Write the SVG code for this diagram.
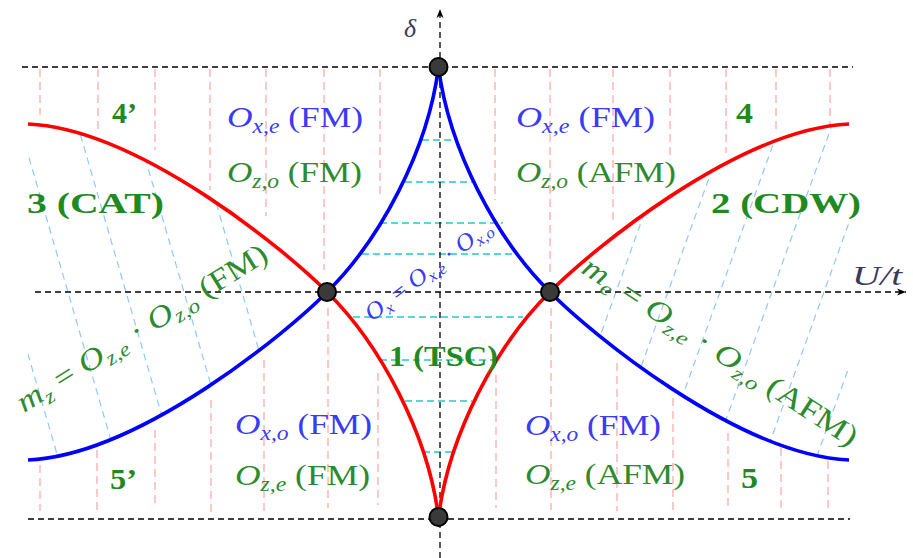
<svg xmlns="http://www.w3.org/2000/svg" width="913" height="558" viewBox="0 0 913 558">
<style>
.bk{stroke:#000;stroke-width:1.3;stroke-dasharray:6 4;fill:none}
.pk{stroke:#ff9c9c;stroke-width:1.1;stroke-dasharray:8 5;fill:none}
.lb{stroke:#8ec8ff;stroke-width:1.2;stroke-dasharray:7 5;fill:none}
.cy{stroke:#20cccc;stroke-width:1.4;stroke-dasharray:7 4;fill:none}
.bl{stroke:#0000ff;stroke-width:3.6;fill:none}
.rd{stroke:#ff0000;stroke-width:3.6;fill:none}
.nd{fill:#3a3a3a;stroke:#000;stroke-width:2}
text{font-family:"Liberation Serif","Times New Roman",serif}
.it{font-style:italic}
.lbl{font-weight:bold;fill:#1f8a1f;font-size:29px}
.gb{fill:#2e8a2e}
.bb{fill:#3b3bf5}
.op{font-size:30px}
.sb{font-size:20px;font-style:italic}
</style>
<defs>
<path id="qL" d="M438.5,67 C428,150 380,240 327,292 C290,330 140,455 28,460"/>
<clipPath id="cL"><path d="M28,124 C140,129 290,254 327,292 C290,330 140,455 28,460 Z"/></clipPath>
<clipPath id="cR"><path d="M849,124 C737,129 587,254 550,292 C587,330 737,455 849,460 Z"/></clipPath>
<marker id="ar" viewBox="-9 -4 10 8" refX="0" refY="0" markerWidth="10" markerHeight="8" orient="auto" markerUnits="userSpaceOnUse"><path d="M0,0 L-9,-3.5 L-6.5,0 L-9,3.5 Z" fill="#000"/></marker>
</defs>

<g id="pink-grid">
<path class="pk" d="M40,69V115 M98,69V132 M155,69V150 M210,69V190 M266,69V216 M324,69V270 M380,69V198"/>
<path class="pk" d="M495,69V200 M550,69V273 M613,69V220 M670,69V157 M726,69V153 M776,69V130 M830,69V127"/>
<path class="pk" d="M40,465V511 M97,450V515 M155,430V508 M211,400V515 M264,360V511 M328,308V508 M378,373V505"/>
<path class="pk" d="M496,375V508 M551,308V510 M617,363V511 M673,398V511 M728,433V511 M781,448V511 M828,461V508"/>
</g>

<g id="hatch-left" clip-path="url(#cL)">
<path class="lb" d="M-45.7,100L64.5,480 M12.3,100L122.5,480 M70.3,100L180.5,480 M128.3,100L238.5,480 M186.3,100L296.5,480"/>
</g>
<g id="hatch-right" clip-path="url(#cR)">
<path class="lb" d="M685.1,100L548.3,480 M737.1,100L600.3,480 M789.1,100L652.3,480 M841.1,100L704.3,480 M893.1,100L756.3,480 M945.1,100L808.3,480"/>
</g>

<g id="hatch-center">
<path class="cy" d="M422,140H455 M405,182H472 M380,223H503 M362,254H515 M353,317H523 M380,360H495 M405,401H472 M423,452H455"/>
</g>

<g id="axes">
<path class="bk" d="M22,67H853 M28,519H850"/>
<path class="bk" d="M35,292H906" marker-end="url(#ar)"/>
<path class="bk" d="M440,558V9" marker-end="url(#ar)"/>
</g>

<g id="connectors">
<use href="#qL" class="bl"/>
<use href="#qL" class="bl" transform="matrix(-1 0 0 1 877 0)"/>
<use href="#qL" class="rd" transform="matrix(1 0 0 -1 0 584)"/>
<use href="#qL" class="rd" transform="matrix(-1 0 0 -1 877 584)"/>
</g>

<g id="node-top"><circle class="nd" cx="438.5" cy="67" r="9"/></g>
<g id="node-left"><circle class="nd" cx="327" cy="292" r="9"/></g>
<g id="node-right"><circle class="nd" cx="550" cy="292" r="9"/></g>
<g id="node-bottom"><circle class="nd" cx="438.5" cy="517" r="9"/></g>

<g id="axis-labels">
<text class="it" x="404" y="37" font-size="26" fill="#3a3a5a">δ</text>
<text class="it" x="852" y="285" font-size="28" fill="#3a3a5a" textLength="50" lengthAdjust="spacingAndGlyphs">U/t</text>
</g>

<g id="region-labels">
<text class="lbl" x="112" y="123" textLength="25" lengthAdjust="spacingAndGlyphs">4’</text>
<text class="lbl" x="736" y="123" textLength="17" lengthAdjust="spacingAndGlyphs">4</text>
<text class="lbl" x="27" y="213" textLength="137" lengthAdjust="spacingAndGlyphs">3 (CAT)</text>
<text class="lbl" x="711" y="213" textLength="150" lengthAdjust="spacingAndGlyphs">2 (CDW)</text>
<text class="lbl" x="389" y="366" font-size="24" textLength="109" lengthAdjust="spacingAndGlyphs">1 (TSC)</text>
<text class="lbl" x="110" y="489" textLength="27" lengthAdjust="spacingAndGlyphs">5’</text>
<text class="lbl" x="741" y="488" textLength="17" lengthAdjust="spacingAndGlyphs">5</text>
</g>

<g id="op-labels" class="op">
<text class="bb" x="227" y="127" textLength="136" lengthAdjust="spacingAndGlyphs"><tspan class="it">O</tspan><tspan class="sb" dy="6">x,e</tspan><tspan dy="-6"> (FM)</tspan></text>
<text class="gb" x="227" y="182" textLength="135" lengthAdjust="spacingAndGlyphs"><tspan class="it">O</tspan><tspan class="sb" dy="6">z,o</tspan><tspan dy="-6"> (FM)</tspan></text>
<text class="bb" x="516" y="127" textLength="139" lengthAdjust="spacingAndGlyphs"><tspan class="it">O</tspan><tspan class="sb" dy="6">x,e</tspan><tspan dy="-6"> (FM)</tspan></text>
<text class="gb" x="516" y="182" textLength="160" lengthAdjust="spacingAndGlyphs"><tspan class="it">O</tspan><tspan class="sb" dy="6">z,o</tspan><tspan dy="-6"> (AFM)</tspan></text>
<text class="bb" x="235" y="434" textLength="137" lengthAdjust="spacingAndGlyphs"><tspan class="it">O</tspan><tspan class="sb" dy="6">x,o</tspan><tspan dy="-6"> (FM)</tspan></text>
<text class="gb" x="235" y="485" textLength="135" lengthAdjust="spacingAndGlyphs"><tspan class="it">O</tspan><tspan class="sb" dy="6">z,e</tspan><tspan dy="-6"> (FM)</tspan></text>
<text class="bb" x="525" y="435" textLength="136" lengthAdjust="spacingAndGlyphs"><tspan class="it">O</tspan><tspan class="sb" dy="6">x,o</tspan><tspan dy="-6"> (FM)</tspan></text>
<text class="gb" x="525" y="484" textLength="160" lengthAdjust="spacingAndGlyphs"><tspan class="it">O</tspan><tspan class="sb" dy="6">z,e</tspan><tspan dy="-6"> (AFM)</tspan></text>
</g>

<g id="order-labels">
<text class="gb" font-size="30" transform="translate(24,413) rotate(-32)" textLength="290" lengthAdjust="spacingAndGlyphs"><tspan class="it">m</tspan><tspan class="sb" dy="6">z</tspan><tspan dy="-6"> = </tspan><tspan class="it">O</tspan><tspan class="sb" dy="6">z,e</tspan><tspan dy="-6"> · </tspan><tspan class="it">O</tspan><tspan class="sb" dy="6">z,o</tspan><tspan dy="-6"> (FM)</tspan></text>
<text class="gb" font-size="30" transform="translate(580,272) rotate(33)" textLength="322" lengthAdjust="spacingAndGlyphs"><tspan class="it">m</tspan><tspan class="sb" dy="6">e</tspan><tspan dy="-6"> = </tspan><tspan class="it">O</tspan><tspan class="sb" dy="6">z,e</tspan><tspan dy="-6"> · </tspan><tspan class="it">O</tspan><tspan class="sb" dy="6">z,o</tspan><tspan dy="-6"> (AFM)</tspan></text>
<text class="bb" font-size="24" transform="translate(372,322) rotate(-37)" textLength="152" lengthAdjust="spacingAndGlyphs"><tspan class="it">O</tspan><tspan font-size="16" class="it" dy="5">x</tspan><tspan dy="-5"> = </tspan><tspan class="it">O</tspan><tspan font-size="16" class="it" dy="5">x,e</tspan><tspan dy="-5"> · </tspan><tspan class="it">O</tspan><tspan font-size="16" class="it" dy="5">x,o</tspan></text>
</g>
</svg>
